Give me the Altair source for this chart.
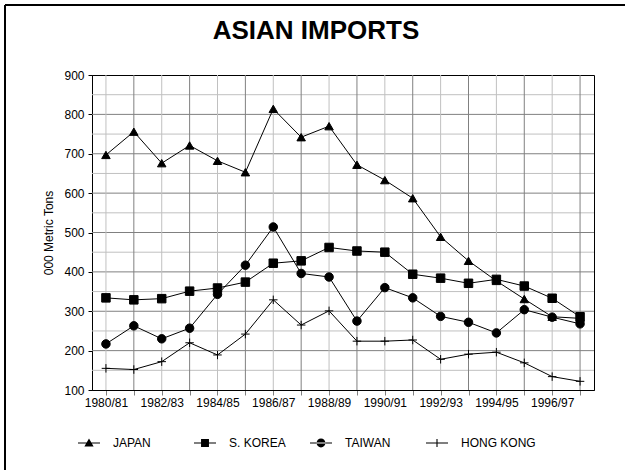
import json
import altair as alt
import pandas as pd

# Crop years on the x axis
seasons = ["1980/81", "1981/82", "1982/83", "1983/84", "1984/85", "1985/86",
           "1986/87", "1987/88", "1988/89", "1989/90", "1990/91", "1991/92",
           "1992/93", "1993/94", "1994/95", "1995/96", "1996/97", "1997/98"]

# Imports, '000 metric tons
japan = [697, 756, 676, 721, 682, 653, 814, 742, 770, 672, 633, 587, 489, 428, 377, 331, 286, 282]
s_korea = [334, 329, 332, 351, 359, 374, 422, 428, 462, 453, 450, 394, 384, 371, 381, 364, 333, 286]
taiwan = [217, 263, 230, 257, 343, 417, 514, 396, 387, 275, 360, 334, 287, 272, 245, 304, 285, 268]
hong_kong = [155, 152, 172, 220, 189, 242, 329, 265, 301, 224, 224, 227, 178, 191, 196, 169, 134, 122]

series_names = ["JAPAN", "S. KOREA", "TAIWAN", "HONG KONG"]
y_ticks = [100, 200, 300, 400, 500, 600, 700, 800, 900]
labeled_seasons = seasons[::2]

rows = []
for name, values in zip(series_names, [japan, s_korea, taiwan, hong_kong]):
    for i, (s, v) in enumerate(zip(seasons, values)):
        rows.append({"season": s, "tons": v, "series": name, "order": i})
df = pd.DataFrame(rows)

# Grid: darker lines on every hundred and on unlabeled seasons
ygrid = pd.DataFrame({"tons": list(range(150, 900, 50))})
ygrid["shade"] = ["#808080" if v % 100 == 0 else "#c0c0c0" for v in ygrid["tons"]]
xgrid = pd.DataFrame({"season": seasons})
xgrid["shade"] = ["#c0c0c0" if i % 2 == 0 else "#808080" for i in range(len(seasons))]

FONT = "Liberation Sans"

x_scale = alt.Scale(type="point", padding=0.5, domain=seasons)
x_enc = alt.X("season:N", sort=seasons, scale=x_scale,
              axis=alt.Axis(title=None, grid=False, labelAngle=0, labelOverlap=False,
                            labelExpr="indexof(" + json.dumps(labeled_seasons) +
                                      ", datum.value) >= 0 ? datum.value : ''",
                            labelFont=FONT, labelFontSize=12, labelColor="black",
                            labelPadding=2, tickColor="#808080", tickSize=5,
                            domainColor="black"))
y_scale = alt.Scale(domain=[100, 900], nice=False, zero=False)
y_enc = alt.Y("tons:Q", scale=y_scale,
              axis=alt.Axis(title="000 Metric Tons", values=y_ticks, grid=False,
                            labelFont=FONT, labelFontSize=12, labelColor="black",
                            titleFont=FONT, titleFontSize=12, titleFontWeight="normal",
                            titleColor="black", titlePadding=8, labelPadding=4,
                            tickColor="black", tickSize=4, domainColor="black"))

hgrid = alt.Chart(ygrid).mark_rule(strokeWidth=1).encode(
    y=y_enc,
    color=alt.Color("shade:N", scale=None),
)
vgrid = alt.Chart(xgrid).mark_rule(strokeWidth=1).encode(
    x=x_enc,
    color=alt.Color("shade:N", scale=None),
)

lines = alt.Chart(df).mark_line(color="black", strokeWidth=1).encode(
    x=x_enc, y=y_enc, detail="series:N", order="order:Q",
)

point_shapes = ["triangle-up", "square", "circle", "M-1,0H1M0,-1V1"]
points = alt.Chart(df).mark_point(filled=True, color="black", stroke="black",
                                  strokeWidth=1, opacity=1, size=72).encode(
    x=x_enc, y=y_enc,
    shape=alt.Shape("series:N", scale=alt.Scale(domain=series_names, range=point_shapes),
                    legend=None),
)

# Legend symbols: a thin bar with the series marker on it (filled outlines only)
legend_shapes = [
    "M-1,-0.05H1V0.05H-1ZM0,-0.42L0.42,0.32L-0.42,0.32Z",
    "M-1,-0.05H1V0.05H-1ZM-0.36,-0.36H0.36V0.36H-0.36Z",
    "M-1,-0.05H1V0.05H-1ZM-0.4,0A0.4,0.4,0,1,0,0.4,0A0.4,0.4,0,1,0,-0.4,0Z",
    "M-1,-0.05H1V0.05H-1ZM-0.05,-0.36H0.05V0.36H-0.05Z",
]
legend_layer = alt.Chart(df).transform_calculate(key="datum.series").transform_filter(
    "false"
).mark_point(filled=True, color="black", opacity=1).encode(
    x=x_enc, y=y_enc,
    shape=alt.Shape("key:N", scale=alt.Scale(domain=series_names, range=legend_shapes),
                    legend=alt.Legend(title=None, orient="none", direction="horizontal",
                                      legendX=-14, legendY=357, padding=0,
                                      symbolSize=484, symbolStrokeWidth=0,
                                      symbolFillColor="black", symbolOpacity=1,
                                      labelFont=FONT, labelFontSize=12,
                                      labelColor="black", labelOffset=13,
                                      gridAlign="all", columnPadding=6)),
)

# Outer frame lines along the top and left of the figure
frame_top = alt.Chart(df).mark_rule(color="black", strokeWidth=1).encode(
    x=alt.value(-87), x2=alt.value(533), y=alt.value(-70))
frame_left = alt.Chart(df).mark_rule(color="black", strokeWidth=1).encode(
    x=alt.value(-87), y=alt.value(-70), y2=alt.value(395))

chart = alt.layer(hgrid, vgrid, lines, points, legend_layer, frame_top, frame_left).resolve_scale(
    shape="independent", color="independent"
).properties(
    width=502, height=315,
    title=alt.Title("ASIAN IMPORTS", font=FONT, fontSize=26, fontWeight="bold",
                    color="black", anchor="middle", offset=-39, dx=-27),
    autosize=alt.AutoSizeParams(type="none"),
    padding={"left": 92, "top": 75, "right": 31, "bottom": 80},
    background="white",
).configure_view(stroke="black", strokeWidth=1)

chart.save("out.html", embed_options={"renderer": "svg", "actions": False})
